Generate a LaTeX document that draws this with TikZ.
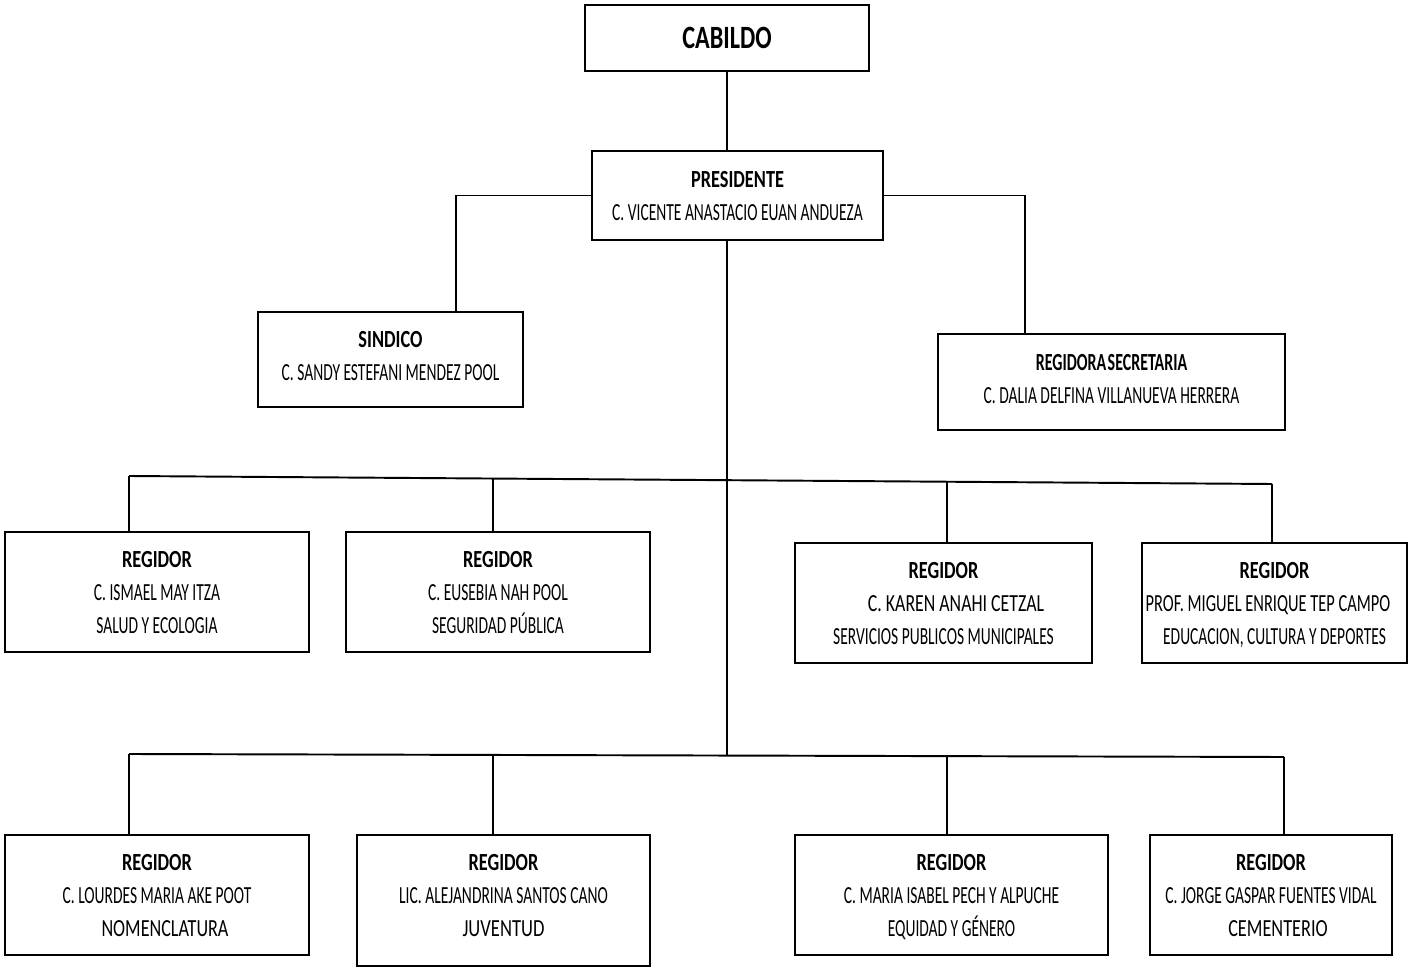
\documentclass[tikz,border=0pt]{standalone}
\usepackage{fontspec}
\setmainfont{Carlito}[UprightFeatures={FakeStretch=0.63}, BoldFeatures={FakeStretch=0.745}]
\usepackage{graphicx}
\usepackage{tikz}
\usetikzlibrary{calc}

\tikzset{
  texto/.style={align=center, inner sep=0pt, text depth=0pt, font=\fontsize{14}{18.8}\selectfont},
  cargo/.style={texto, draw, line width=1.1pt},
  liga/.style={line width=0.8pt},
}

\begin{document}
\begin{tikzpicture}[x=0.02cm, y=-0.02cm]
\useasboundingbox (0,0) rectangle (1416,972);
% cabildo y presidente
\node[cargo, minimum width=5.68cm, minimum height=1.32cm, font=\fontsize{18.5}{20}\selectfont\bfseries] (cab) at (727,38) {CABILDO};
\node[cargo, minimum width=5.82cm, minimum height=1.78cm] (pres) at (737.5,195.5) {\textbf{PRESIDENTE}\\C. VICENTE ANASTACIO EUAN ANDUEZA};
\node[cargo, minimum width=5.30cm, minimum height=1.90cm, text depth=4pt] (sind) at (390.5,359.5) {\textbf{SINDICO}\\C. SANDY ESTEFANI MENDEZ POOL};
\node[cargo, minimum width=6.94cm, minimum height=1.92cm, text depth=4pt] (sec) at (1111.5,382) {\scalebox{0.87}[1]{\textbf{REGIDORA\kern1pt SECRETARIA}}\\C. DALIA DELFINA VILLANUEVA HERRERA};
% regidores fila 1
\node[cargo, minimum width=6.08cm, minimum height=2.40cm] (b1) at (157,592) {\textbf{REGIDOR}\\C. ISMAEL MAY ITZA\\SALUD Y ECOLOGIA};
\node[cargo, minimum width=6.08cm, minimum height=2.40cm] (b2) at (498,592) {\textbf{REGIDOR}\\C. EUSEBIA NAH POOL\\SEGURIDAD PÚBLICA};
\node[cargo, minimum width=5.94cm, minimum height=2.40cm] (b3) at (943.5,603) {\textbf{REGIDOR}\\\hspace*{0.5cm}\scalebox{1.15}[1]{C. KAREN ANAHI CETZAL}\\SERVICIOS PUBLICOS MUNICIPALES};
\node[cargo, minimum width=5.30cm, minimum height=2.40cm] (b4) at (1274.5,603) {\textbf{REGIDOR}\\\hspace*{-0.26cm}\scalebox{1.06}[1]{PROF. MIGUEL ENRIQUE TEP CAMPO}\\EDUCACION, CULTURA Y DEPORTES};
% regidores fila 2
\node[cargo, minimum width=6.08cm, minimum height=2.40cm] (b5) at (157,895) {\textbf{REGIDOR}\\C. LOURDES MARIA AKE POOT\\\hspace*{0.32cm}\scalebox{1.17}[1]{NOMENCLATURA}};
\node[draw, line width=1.1pt, minimum width=5.86cm, minimum height=2.62cm] (b6) at (503.5,900.5) {};
\node[texto] (b6t) at (503.5,895.5) {\textbf{REGIDOR}\\LIC. ALEJANDRINA SANTOS CANO\\\scalebox{1.2}[1]{JUVENTUD}};
\node[cargo, minimum width=6.26cm, minimum height=2.40cm] (b7) at (951.5,895) {\textbf{REGIDOR}\\C. MARIA ISABEL PECH Y ALPUCHE\\EQUIDAD Y GÉNERO};
\node[cargo, minimum width=4.84cm, minimum height=2.40cm] (b8) at (1271,895) {\textbf{REGIDOR}\\C. JORGE GASPAR FUENTES VIDAL\\\hspace*{0.28cm}\scalebox{1.18}[1]{CEMENTERIO}};

% lineas
\coordinate (sd) at (456,198);
\coordinate (rs) at (1025,198);
\coordinate (t1) at (727,480);
\coordinate (t2) at (727,755);
\coordinate (r1a) at (129,476);
\coordinate (r1b) at (1272,484);
\coordinate (d2) at (493,478.5);
\coordinate (d3) at (947,481.7);
\coordinate (r2a) at (129,754);
\coordinate (r2b) at (1284,757);
\coordinate (e2) at (493,755);
\coordinate (e3) at (947,756);

\draw[liga] (cab.south) -- (cab.south |- pres.north);
\draw[liga] (pres.west) -- (pres.west -| sd) -- (sd |- sind.north);
\draw[liga] (pres.east) -- (pres.east -| rs) -- (rs |- sec.north);
\draw[liga] (t1 |- pres.south) -- (t2);
\draw[line width=1.1pt] (r1a) -- (r1b);
\draw[line width=1.1pt] (r2a) -- (r2b);
\draw[liga] (r1a) -- (r1a |- b1.north);
\draw[liga] (d2) -- (d2 |- b2.north);
\draw[liga] (d3) -- (d3 |- b3.north);
\draw[liga] (r1b) -- (r1b |- b4.north);
\draw[liga] (r2a) -- (r2a |- b5.north);
\draw[liga] (e2) -- (e2 |- b6.north);
\draw[liga] (e3) -- (e3 |- b7.north);
\draw[liga] (r2b) -- (r2b |- b8.north);
\end{tikzpicture}
\end{document}
